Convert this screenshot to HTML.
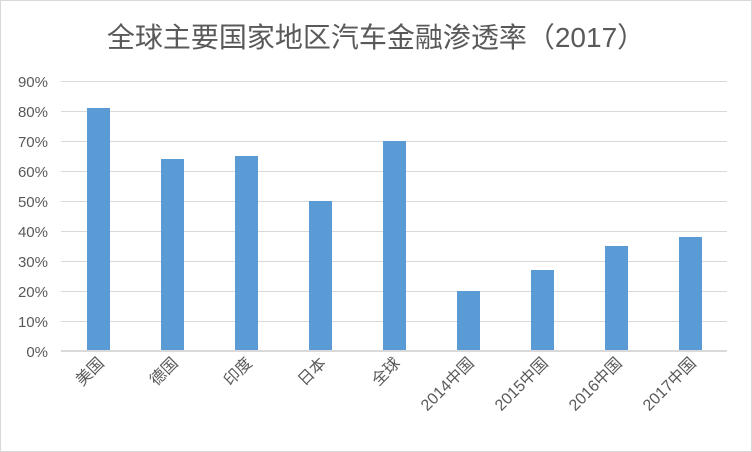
<!DOCTYPE html>
<html><head><meta charset="utf-8"><style>
html,body{margin:0;padding:0;background:#fff;}
svg{display:block;}
text{font-family:"Liberation Sans","Noto Sans CJK SC",sans-serif;fill:#595959;}
</style></head><body>
<svg width="752" height="452" viewBox="0 0 752 452" xmlns="http://www.w3.org/2000/svg">
<rect x="0.5" y="0.5" width="751" height="451" fill="#fff" stroke="#d9d9d9"/>
<text x="376" y="47" font-size="28" text-anchor="middle">全球主要国家地区汽车金融渗透率（2017）</text>
<g stroke="#d9d9d9" stroke-width="1">
<line x1="61" x2="727" y1="81.5" y2="81.5"/><line x1="61" x2="727" y1="111.5" y2="111.5"/>
<line x1="61" x2="727" y1="141.5" y2="141.5"/><line x1="61" x2="727" y1="171.5" y2="171.5"/>
<line x1="61" x2="727" y1="201.5" y2="201.5"/><line x1="61" x2="727" y1="231.5" y2="231.5"/>
<line x1="61" x2="727" y1="261.5" y2="261.5"/><line x1="61" x2="727" y1="291.5" y2="291.5"/>
<line x1="61" x2="727" y1="321.5" y2="321.5"/>
</g>
<g font-size="15" text-anchor="end">
<text x="48" y="87">90%</text><text x="48" y="117">80%</text><text x="48" y="147">70%</text>
<text x="48" y="177">60%</text><text x="48" y="207">50%</text><text x="48" y="237">40%</text>
<text x="48" y="267">30%</text><text x="48" y="297">20%</text><text x="48" y="327">10%</text>
<text x="48" y="357">0%</text>
</g>
<g fill="#5b9bd5">
<rect x="87" y="108" width="23" height="243"/>
<rect x="161" y="159" width="23" height="192"/>
<rect x="235" y="156" width="23" height="195"/>
<rect x="309" y="201" width="23" height="150"/>
<rect x="383" y="141" width="23" height="210"/>
<rect x="457" y="291" width="23" height="60"/>
<rect x="531" y="270" width="23" height="81"/>
<rect x="605" y="246" width="23" height="105"/>
<rect x="679" y="237" width="23" height="114"/>
</g>
<line x1="61" x2="727" y1="351" y2="351" stroke="#d9d9d9" stroke-width="2"/>
<g font-size="16" text-anchor="end">
<text transform="translate(105,364) rotate(-45)">美国</text>
<text transform="translate(179,364) rotate(-45)">德国</text>
<text transform="translate(253,364) rotate(-45)">印度</text>
<text transform="translate(327,364) rotate(-45)">日本</text>
<text transform="translate(401,364) rotate(-45)">全球</text>
<text transform="translate(475,364) rotate(-45)">2014中国</text>
<text transform="translate(549,364) rotate(-45)">2015中国</text>
<text transform="translate(623,364) rotate(-45)">2016中国</text>
<text transform="translate(697,364) rotate(-45)">2017中国</text>
</g>
</svg>
</body></html>
